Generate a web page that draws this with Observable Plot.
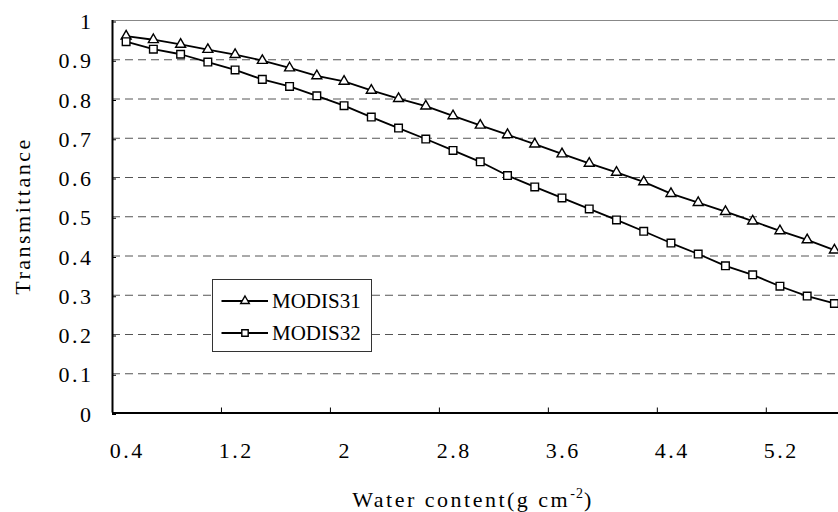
<!DOCTYPE html>
<html><head><meta charset="utf-8">
<script src="https://cdn.jsdelivr.net/npm/d3@7"></script>
<script src="https://cdn.jsdelivr.net/npm/@observablehq/plot@0.6"></script>
<style>
html,body{margin:0;padding:0;background:#fff;}
#chart{width:838px;height:512px;overflow:hidden;}
</style></head><body><div id="chart"></div>
<script>
// Data
const water = [0.4,0.6,0.8,1.0,1.2,1.4,1.6,1.8,2.0,2.2,2.4,2.6,2.8,3.0,3.2,3.4,3.6,3.8,4.0,4.2,4.4,4.6,4.8,5.0,5.2,5.4,5.6];
const modis31 = [0.960,0.951,0.939,0.926,0.913,0.898,0.879,0.859,0.845,0.822,0.801,0.782,0.757,0.733,0.709,0.685,0.660,0.636,0.613,0.589,0.559,0.536,0.513,0.489,0.464,0.441,0.415];
const modis32 = [0.946,0.927,0.914,0.894,0.874,0.850,0.832,0.808,0.783,0.754,0.726,0.698,0.669,0.640,0.605,0.576,0.548,0.520,0.492,0.463,0.433,0.405,0.375,0.352,0.323,0.298,0.279];
const seriesNames = ["MODIS31","MODIS32"];
const xLabelTicks = [0.4,1.2,2,2.8,3.6,4.4,5.2];
const xBoundaryTicks = [1.1,1.9,2.7,3.5,4.3,5.1];
const xDomain = [0.3,5.63];
const yTicks = [0,0.1,0.2,0.3,0.4,0.5,0.6,0.7,0.8,0.9,1];
const yGrid = [0.1,0.2,0.3,0.4,0.5,0.6,0.7,0.8,0.9];
const xTitleMain = "Water content(g cm";
const xTitleSup = "-2";
const xTitleEnd = ")";
const yTitle = "Transmittance";

const s31 = water.map((w,i)=>({w, t: modis31[i], s: seriesNames[0]}));
const s32 = water.map((w,i)=>({w, t: modis32[i], s: seriesNames[1]}));

const FONT = "'Liberation Serif', 'DejaVu Serif', serif";
const LS = "2.5px";

const plot = Plot.plot({
  width: 838, height: 512,
  marginLeft: 112, marginRight: 0, marginTop: 20, marginBottom: 99.5,
  style: {fontFamily: FONT, fontSize: "22px", letterSpacing: LS, background: "#fff", color: "#000", overflow: "visible"},
  x: {domain: xDomain, label: null},
  y: {domain: [0,1], label: null},
  marks: [
    Plot.ruleY(yGrid, {stroke:"#555", strokeDasharray:"8,5", strokeWidth:1}),
    Plot.ruleY([1], {stroke:"#888", strokeWidth:1}),
    Plot.axisY({ticks: yTicks, tickSize: -4, tickPadding: 23, tickFormat: d => String(d), label: null, dy: 1.5}),
    Plot.axisX({ticks: xBoundaryTicks, tickSize: -5, tickFormat: () => "", label: null}),
    Plot.axisX({ticks: xLabelTicks, tickSize: 0, tickPadding: 29, tickFormat: d => String(d), label: null, dx: 1.2}),
    Plot.ruleY([0], {stroke:"#000", strokeWidth:2}),
    Plot.ruleX([xDomain[0]], {stroke:"#000", strokeWidth:2}),
    Plot.line(s31, {x:"w", y:"t", stroke:"#000", strokeWidth:1.8}),
    Plot.line(s32, {x:"w", y:"t", stroke:"#000", strokeWidth:1.8}),
    Plot.dot(s31, {x:"w", y:"t", symbol:"triangle", r:3.7, fill:"#fff", stroke:"#000", strokeWidth:1.4}),
    Plot.dot(s32, {x:"w", y:"t", symbol:"square", r:4.3, fill:"#fff", stroke:"#000", strokeWidth:1.4})
  ]
});
document.getElementById("chart").appendChild(plot);

const svg = d3.select(plot);
// Axis titles
const xt = svg.append("text").attr("x", 473).attr("y", 507)
  .attr("text-anchor","middle").attr("font-family", FONT).attr("font-size","22px")
  .style("letter-spacing", LS).attr("fill","#000");
xt.append("tspan").text(xTitleMain);
xt.append("tspan").attr("dy", -9).attr("font-size","14px").style("letter-spacing","1px").text(xTitleSup);
xt.append("tspan").attr("dy", 9).text(xTitleEnd);

svg.append("text").attr("transform","translate(22.5,216) rotate(-90)")
  .attr("text-anchor","middle").attr("dy","0.35em")
  .attr("font-family", FONT).attr("font-size","22px").style("letter-spacing", LS)
  .attr("fill","#000").text(yTitle);

// Legend
const lg = svg.append("g");
lg.append("rect").attr("x",212.5).attr("y",279.5).attr("width",159).attr("height",72)
  .attr("fill","#fff").attr("stroke","#333").attr("stroke-width",1);
const legendRows = [
  {name: seriesNames[0], sym: d3.symbolTriangle, size: Math.PI*3.2*3.2},
  {name: seriesNames[1], sym: d3.symbolSquare, size: Math.PI*3.6*3.6}
];
legendRows.forEach((r,i)=>{
  const cy = 301 + i*32;
  lg.append("line").attr("x1",221.5).attr("x2",268).attr("y1",cy).attr("y2",cy)
    .attr("stroke","#000").attr("stroke-width",1.8);
  lg.append("path").attr("d", d3.symbol(r.sym, r.size)()).attr("transform",`translate(245,${cy})`)
    .attr("fill","#fff").attr("stroke","#000").attr("stroke-width",1.4);
  lg.append("text").attr("x",272).attr("y",cy).attr("dy","0.35em").attr("text-anchor","start")
    .attr("font-family", FONT).attr("font-size","21px").style("letter-spacing","0px")
    .attr("fill","#000").text(r.name);
});
</script></body></html>
